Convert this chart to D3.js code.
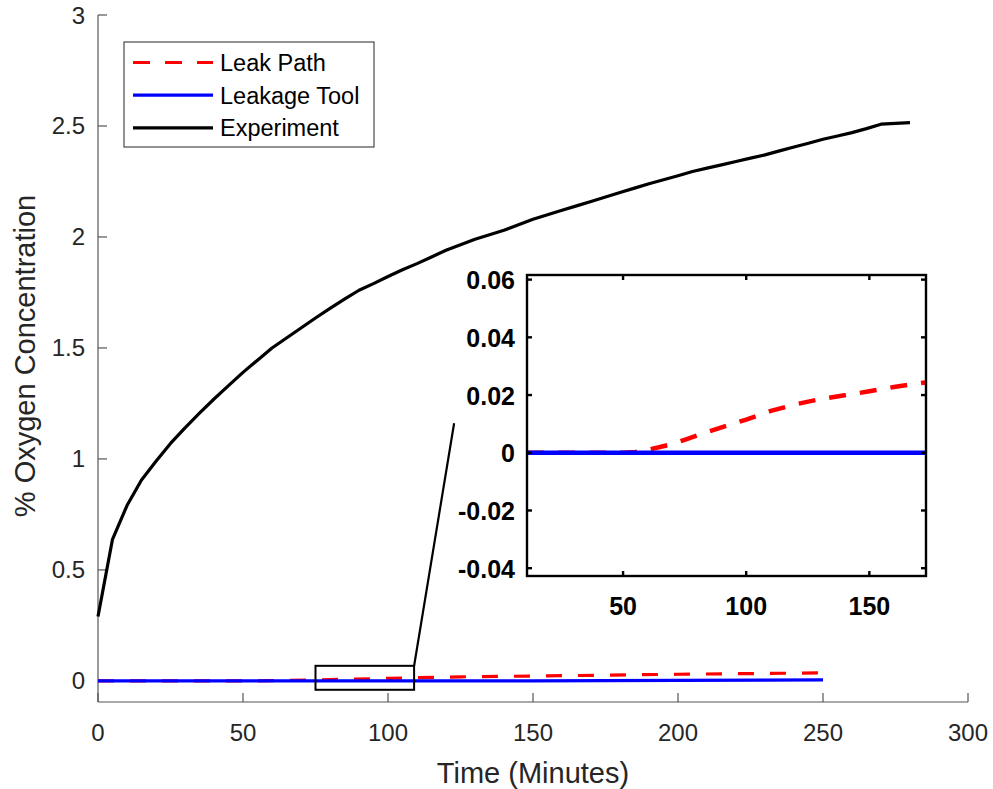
<!DOCTYPE html>
<html><head><meta charset="utf-8">
<script src="https://cdn.jsdelivr.net/npm/d3@7"></script>
<style>body{margin:0;background:#fff}svg{display:block}</style>
</head><body>
<svg id="c" width="993" height="789"></svg>
<script>
// ---- data ----
const expTime = [0,5,10,15,20,25,30,35,40,45,50,55,60,65,70,75,80,85,90,95,100,105,110,115,120,125,130,135,140,145,150,155,160,165,170,175,180,185,190,195,200,205,210,215,220,225,230,235,240,245,250,255,260,265,270,275,280];
const expVal = [0.29,0.638,0.79,0.905,0.99,1.07,1.14,1.206,1.27,1.33,1.39,1.445,1.50,1.545,1.59,1.635,1.678,1.72,1.76,1.79,1.822,1.852,1.88,1.91,1.94,1.965,1.99,2.01,2.03,2.055,2.08,2.10,2.12,2.14,2.16,2.18,2.20,2.22,2.24,2.258,2.276,2.295,2.31,2.325,2.34,2.355,2.37,2.388,2.405,2.422,2.44,2.455,2.47,2.488,2.508,2.512,2.515];
const leakTime = [0,25,50,60,75,100,125,150,175,200,225,250];
const leakVal  = [0,0,0,0.001,0.0045,0.0115,0.0185,0.0218,0.026,0.03,0.033,0.036];
const toolTime = [0,50,100,150,200,250];
const toolVal  = [0,0,0,0,0.002,0.005];
const insetLeakTime = [11,30,50,55,60,65,70,75,80,90,100,110,120,130,140,150,160,173];
const insetLeakVal  = [0,0,0,0.0003,0.001,0.002,0.003,0.0045,0.006,0.0088,0.0115,0.0145,0.0168,0.0186,0.0199,0.0213,0.0228,0.0244];
const insetToolTime = [11,50,100,150,173];
const insetToolVal  = [0,0,0,0,0];
const xTicks = [0,50,100,150,200,250,300];
const yTicks = [0,0.5,1,1.5,2,2.5,3];
const insetXTicks = [50,100,150];
const insetYTicks = [-0.04,-0.02,0,0.02,0.04,0.06];
const zoomBox = {x0:75, x1:109, y0:-0.04, y1:0.068};
const legendNames = ["Leak Path","Leakage Tool","Experiment"];
const colors = {leak:"#ff0000", tool:"#0000ff", exp:"#000000"};

const svg = d3.select("#c");
const font = "'Liberation Sans', Arial, sans-serif";

// ---- main axes ----
const x = d3.scaleLinear().domain([0,300]).range([98,968]);
const y = d3.scaleLinear().domain([-0.095,3]).range([702,15]);
const axisCol = "#262626";
const lineCol = "#555";
const yb = y(-0.095);

svg.append("line").attr("x1",x(0)).attr("x2",x(300)).attr("y1",yb).attr("y2",yb).attr("stroke",lineCol).attr("stroke-width",1.2);
svg.append("line").attr("x1",x(0)).attr("x2",x(0)).attr("y1",yb).attr("y2",y(3)).attr("stroke",lineCol).attr("stroke-width",1.2);
xTicks.forEach(t=>{
  svg.append("line").attr("x1",x(t)).attr("x2",x(t)).attr("y1",yb).attr("y2",yb-9).attr("stroke",lineCol).attr("stroke-width",1.2);
  svg.append("text").attr("x",x(t)).attr("y",741).attr("text-anchor","middle").attr("font-family",font).attr("font-size",24).attr("fill",axisCol).text(t);
});
yTicks.forEach(t=>{
  svg.append("line").attr("x1",x(0)).attr("x2",x(0)+9).attr("y1",y(t)).attr("y2",y(t)).attr("stroke",lineCol).attr("stroke-width",1.2);
  svg.append("text").attr("x",85).attr("y",y(t)+8.5).attr("text-anchor","end").attr("font-family",font).attr("font-size",24).attr("fill",axisCol).text(t);
});
svg.append("text").attr("x",x(150)).attr("y",783).attr("text-anchor","middle").attr("font-family",font).attr("font-size",29).attr("fill",axisCol).text("Time (Minutes)");
svg.append("text").attr("transform","translate(35,356) rotate(-90)").attr("text-anchor","middle").attr("font-family",font).attr("font-size",29).attr("fill",axisCol).text("% Oxygen Concentration");

const line = (sx,sy)=>d3.line().x(d=>sx(d[0])).y(d=>sy(d[1]));
const zip = (a,b)=>a.map((v,i)=>[v,b[i]]);

// plot order: leak path, leakage tool, experiment
svg.append("path").attr("d",line(x,y)(zip(leakTime,leakVal))).attr("fill","none").attr("stroke",colors.leak).attr("stroke-width",3.2).attr("stroke-dasharray","16,16");
svg.append("path").attr("d",line(x,y)(zip(toolTime,toolVal))).attr("fill","none").attr("stroke",colors.tool).attr("stroke-width",3.2);
svg.append("path").attr("d",line(x,y)(zip(expTime,expVal))).attr("fill","none").attr("stroke",colors.exp).attr("stroke-width",3.2).attr("stroke-linejoin","round");

// zoom rectangle and connector
svg.append("rect").attr("x",x(zoomBox.x0)).attr("y",y(zoomBox.y1)).attr("width",x(zoomBox.x1)-x(zoomBox.x0)).attr("height",y(zoomBox.y0)-y(zoomBox.y1)).attr("fill","none").attr("stroke","#000").attr("stroke-width",2);
svg.append("line").attr("x1",x(zoomBox.x1)).attr("y1",y(zoomBox.y1)).attr("x2",x(122.8)).attr("y2",y(1.161)).attr("stroke","#000").attr("stroke-width",2.2);

// legend
const lg = svg.append("g");
lg.append("rect").attr("x",124).attr("y",42).attr("width",250).attr("height",105).attr("fill","#fff").attr("stroke","#262626").attr("stroke-width",1);
const legStyles = [
  {c:colors.leak, dash:"16,16"},
  {c:colors.tool, dash:null},
  {c:colors.exp, dash:null}
];
legendNames.forEach((n,i)=>{
  const yy = 62.5 + i*32.7;
  const l = lg.append("line").attr("x1",133).attr("x2",213).attr("y1",yy).attr("y2",yy).attr("stroke",legStyles[i].c).attr("stroke-width",3.2);
  if (legStyles[i].dash) l.attr("stroke-dasharray","17,15");
  lg.append("text").attr("x",220).attr("y",yy+8.5).attr("font-family",font).attr("font-size",23.5).attr("fill","#000").text(n);
});

// ---- inset ----
const ix = d3.scaleLinear().domain([11,173]).range([527,926]);
const iy = d3.scaleLinear().domain([-0.0427,0.0616]).range([576,275]);
const ig = svg.append("g");
ig.append("rect").attr("x",527).attr("y",275).attr("width",399).attr("height",301).attr("fill","#fff");
ig.append("defs").append("clipPath").attr("id","ic").append("rect").attr("x",527).attr("y",275).attr("width",399).attr("height",301);
const ip = ig.append("g").attr("clip-path","url(#ic)");
ip.append("path").attr("d",line(ix,iy)(zip(insetLeakTime,insetLeakVal))).attr("fill","none").attr("stroke",colors.leak).attr("stroke-width",4.5).attr("stroke-dasharray","17,14");
ip.append("path").attr("d",line(ix,iy)(zip(insetToolTime,insetToolVal))).attr("fill","none").attr("stroke",colors.tool).attr("stroke-width",4.5);
ig.append("rect").attr("x",527).attr("y",275).attr("width",399).attr("height",301).attr("fill","none").attr("stroke","#000").attr("stroke-width",2.4);
insetXTicks.forEach(t=>{
  ig.append("line").attr("x1",ix(t)).attr("x2",ix(t)).attr("y1",576).attr("y2",571).attr("stroke","#000").attr("stroke-width",2.4);
  ig.append("line").attr("x1",ix(t)).attr("x2",ix(t)).attr("y1",275).attr("y2",280).attr("stroke","#000").attr("stroke-width",2.4);
  ig.append("text").attr("x",ix(t)).attr("y",615).attr("text-anchor","middle").attr("font-family",font).attr("font-weight","bold").attr("font-size",25).attr("fill","#000").text(t);
});
insetYTicks.forEach(t=>{
  ig.append("line").attr("x1",527).attr("x2",532).attr("y1",iy(t)).attr("y2",iy(t)).attr("stroke","#000").attr("stroke-width",2.4);
  ig.append("line").attr("x1",926).attr("x2",921).attr("y1",iy(t)).attr("y2",iy(t)).attr("stroke","#000").attr("stroke-width",2.4);
  const lab = t===0 ? "0" : t.toFixed(2);
  ig.append("text").attr("x",515).attr("y",iy(t)+9.5).attr("text-anchor","end").attr("font-family",font).attr("font-weight","bold").attr("font-size",25).attr("fill","#000").text(lab);
});
</script>
</body></html>
